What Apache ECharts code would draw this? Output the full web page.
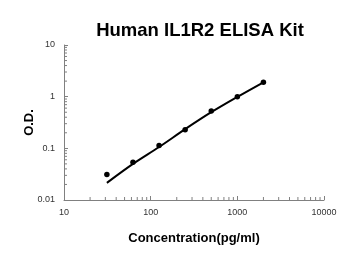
<!DOCTYPE html>
<html>
<head>
<meta charset="utf-8">
<script src="https://cdn.jsdelivr.net/npm/echarts@6/dist/echarts.min.js"></script>
<style>html,body{margin:0;padding:0;background:#fff}#c{width:350px;height:255px}</style>
</head>
<body>
<div id="c"></div>
<script>
var titleText = 'Human IL1R2 ELISA Kit';
var xName = 'Concentration(pg/ml)';
var yName = 'O.D.';
var concentrations = [31.25, 62.5, 125, 250, 500, 1000, 2000];
var odPoints = [0.031, 0.054, 0.113, 0.23, 0.53, 1.0, 1.9];
var odCurve = [0.0215, 0.05, 0.106, 0.235, 0.5, 0.99, 1.9];
var xTickLabels = [10, 100, 1000, 10000];
var yTickLabels = [0.01, 0.1, 1, 10];

var xMinor = [], yMinor = [];
for (var d = 10; d < 10000; d *= 10) for (var k = 2; k <= 9; k++) xMinor.push([d * k, yTickLabels[0]]);
for (var e = 0.01; e < 9; e *= 10) for (var j = 2; j <= 9; j++) yMinor.push([xTickLabels[0], +(e * j).toPrecision(3)]);

var chart = echarts.init(document.getElementById('c'), null, {renderer: 'canvas'});
var axisColor = '#808080';
chart.setOption({
  animation: false,
  graphic: [{
    type: 'text', x: 200, y: 31,
    style: {text: titleText, textAlign: 'center', textVerticalAlign: 'middle',
      font: 'bold 18.5px "Liberation Sans", Arial, sans-serif', fill: '#000'}
  }],
  grid: {left: 64, right: 26, top: 45, bottom: 55},
  xAxis: {
    type: 'log', logBase: 10, min: 10, max: 10000,
    name: xName, nameLocation: 'middle', nameGap: 32, nameMoveOverlap: false,
    nameTextStyle: {fontFamily: 'Liberation Sans, Arial', fontWeight: 'bold', fontSize: 13, color: '#000'},
    axisLine: {lineStyle: {color: axisColor, width: 1}},
    axisTick: {inside: true, length: 4, lineStyle: {color: axisColor}},
    axisLabel: {fontFamily: 'Liberation Sans, Arial', fontSize: 9, color: '#333', margin: 8,
      formatter: function (v) { return String(v); }},
    splitLine: {show: false}
  },
  yAxis: {
    type: 'log', logBase: 10, min: 0.01, max: 10,
    name: yName, nameLocation: 'middle', nameGap: 28, nameRotate: 90, nameMoveOverlap: false,
    nameTextStyle: {fontFamily: 'Liberation Sans, Arial', fontWeight: 'bold', fontSize: 13, color: '#000'},
    axisLine: {lineStyle: {color: axisColor, width: 1}},
    axisTick: {inside: true, length: 4, lineStyle: {color: axisColor}},
    axisLabel: {fontFamily: 'Liberation Sans, Arial', fontSize: 9, color: '#333', margin: 9,
      formatter: function (v) { return String(+v.toPrecision(3)); }},
    splitLine: {show: false}
  },
  series: [
    {
      type: 'line', data: concentrations.map(function (c, i) { return [c, odCurve[i]]; }),
      smooth: 0.3, showSymbol: false, symbol: 'none',
      lineStyle: {color: '#000', width: 2}, z: 3
    },
    {
      type: 'scatter', data: concentrations.map(function (c, i) { return [c, odPoints[i]]; }),
      symbol: 'circle', symbolSize: 5.5, itemStyle: {color: '#000', opacity: 1}, z: 4
    },
    {
      type: 'custom', data: xMinor, silent: true, clip: false,
      renderItem: function (params, api) {
        var p = api.coord([api.value(0), api.value(1)]);
        return {type: 'line', shape: {x1: p[0], y1: p[1], x2: p[0], y2: p[1] - 3},
          style: {stroke: axisColor, lineWidth: 1}};
      }
    },
    {
      type: 'custom', data: yMinor, silent: true, clip: false,
      renderItem: function (params, api) {
        var p = api.coord([api.value(0), api.value(1)]);
        return {type: 'line', shape: {x1: p[0], y1: p[1], x2: p[0] + 3, y2: p[1]},
          style: {stroke: axisColor, lineWidth: 1}};
      }
    }
  ]
});
</script>
</body>
</html>
